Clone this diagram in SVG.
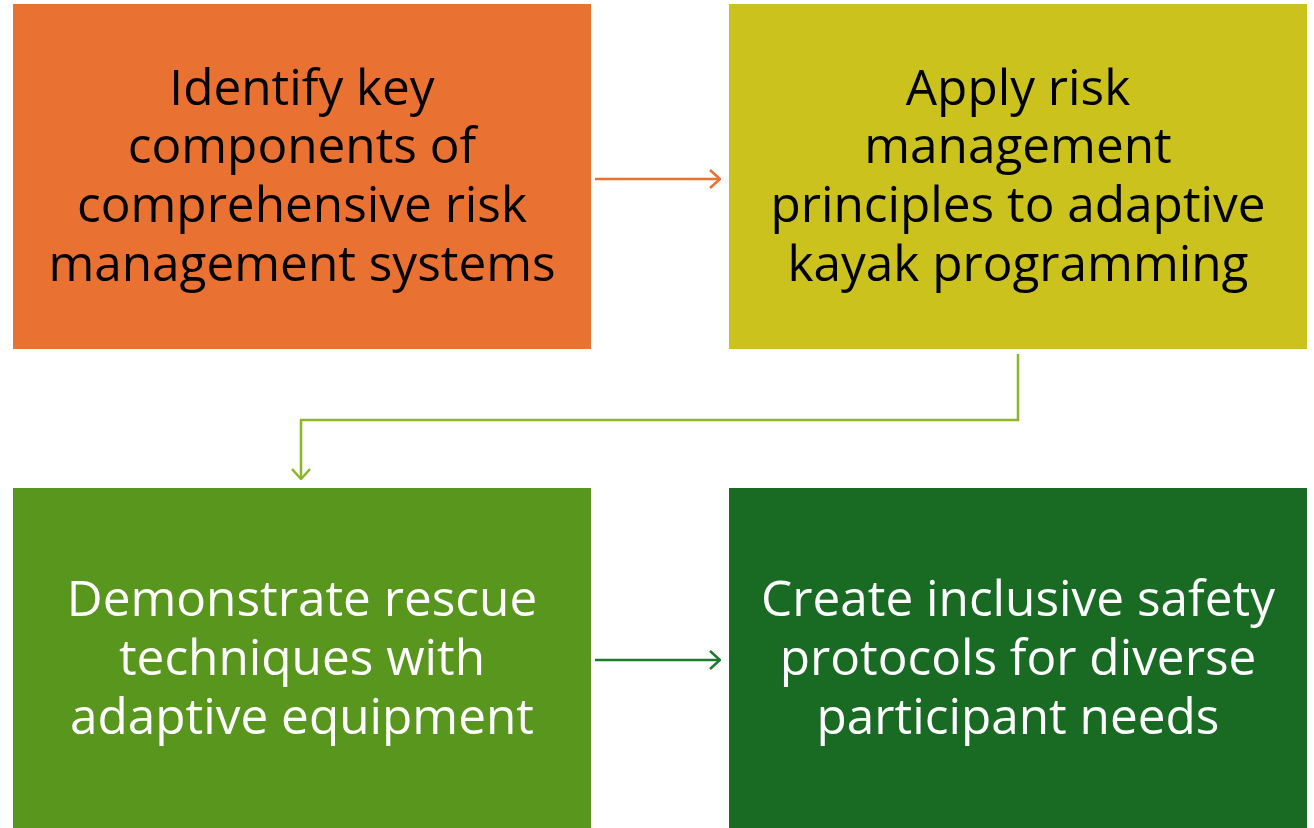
<svg xmlns="http://www.w3.org/2000/svg" width="1314" height="828" viewBox="0 0 1314 828">
<defs>
<style>
.t{font-family:"Open Sans","Liberation Sans",sans-serif;font-size:49.5px;text-anchor:middle}
.dk{fill:#000}
.wh{fill:#fff}
.c{fill:none;stroke-width:2.5}
</style>
<marker id="mo" viewBox="0 0 12 20" refX="11" refY="10" markerWidth="12" markerHeight="20" markerUnits="userSpaceOnUse" orient="auto"><path d="M1,1 L11,10 L1,19" fill="none" stroke="#E97132" stroke-width="2.5"/></marker>
<marker id="ml" viewBox="0 0 12 20" refX="11" refY="10" markerWidth="12" markerHeight="20" markerUnits="userSpaceOnUse" orient="auto"><path d="M1,1 L11,10 L1,19" fill="none" stroke="#8DB52A" stroke-width="2.5"/></marker>
<marker id="mg" viewBox="0 0 12 20" refX="11" refY="10" markerWidth="12" markerHeight="20" markerUnits="userSpaceOnUse" orient="auto"><path d="M1,1 L11,10 L1,19" fill="none" stroke="#1E7A2E" stroke-width="2.5"/></marker>
</defs>
<rect width="1314" height="828" fill="#fff"/>
<g id="n1">
<rect x="13" y="4" width="578" height="345" fill="#E97132"/>
<text class="t dk" x="302"><tspan x="302" y="105">Identify key</tspan><tspan x="302" y="163">components of</tspan><tspan x="302" y="222">comprehensive risk</tspan><tspan x="302" y="281">management systems</tspan></text>
</g>
<g id="n2">
<rect x="729" y="4" width="578" height="345" fill="#CBC21E"/>
<text class="t dk" x="1018"><tspan x="1018" y="105">Apply risk</tspan><tspan x="1018" y="163">management</tspan><tspan x="1018" y="222">principles to adaptive</tspan><tspan x="1018" y="281">kayak programming</tspan></text>
</g>
<g id="n3">
<rect x="13" y="488" width="578" height="340" fill="#58961E"/>
<text class="t wh" x="302"><tspan x="302" y="616">Demonstrate rescue</tspan><tspan x="302" y="675">techniques with</tspan><tspan x="302" y="734">adaptive equipment</tspan></text>
</g>
<g id="n4">
<rect x="729" y="488" width="578" height="340" fill="#196B24"/>
<text class="t wh" x="1018"><tspan x="1018" y="616">Create inclusive safety</tspan><tspan x="1018" y="675">protocols for diverse</tspan><tspan x="1018" y="734">participant needs</tspan></text>
</g>
<g id="connectors">
<path class="c" d="M595,179 H720" stroke="#E97132" marker-end="url(#mo)"/>
<path class="c" d="M1018,354 V420 H301 V479" stroke="#8DB52A" marker-end="url(#ml)"/>
<path class="c" d="M595,660 H720" stroke="#1E7A2E" marker-end="url(#mg)"/>
</g>
</svg>
